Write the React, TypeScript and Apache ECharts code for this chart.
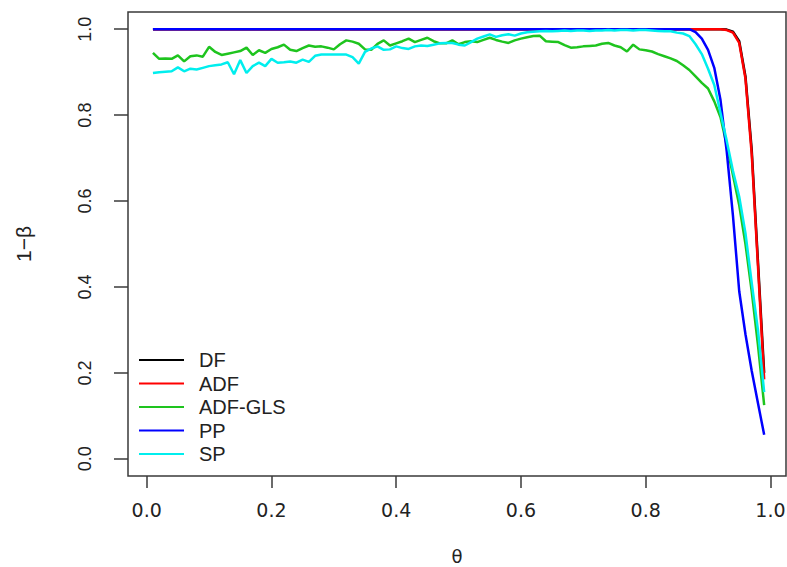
import React, { useEffect, useRef } from "react";
import * as echarts from "echarts";

const THETA = [
  0.01, 0.02, 0.03, 0.04, 0.05, 0.06, 0.07, 0.08, 0.09, 0.1,
  0.11, 0.12, 0.13, 0.14, 0.15, 0.16, 0.17, 0.18, 0.19, 0.2,
  0.21, 0.22, 0.23, 0.24, 0.25, 0.26, 0.27, 0.28, 0.29, 0.3,
  0.31, 0.32, 0.33, 0.34, 0.35, 0.36, 0.37, 0.38, 0.39, 0.4,
  0.41, 0.42, 0.43, 0.44, 0.45, 0.46, 0.47, 0.48, 0.49, 0.5,
  0.51, 0.52, 0.53, 0.54, 0.55, 0.56, 0.57, 0.58, 0.59, 0.6,
  0.61, 0.62, 0.63, 0.64, 0.65, 0.66, 0.67, 0.68, 0.69, 0.7,
  0.71, 0.72, 0.73, 0.74, 0.75, 0.76, 0.77, 0.78, 0.79, 0.8,
  0.81, 0.82, 0.83, 0.84, 0.85, 0.86, 0.87, 0.88, 0.89, 0.9,
  0.91, 0.92, 0.93, 0.94, 0.95, 0.96, 0.97, 0.98, 0.99,
];

const DF = [
  1, 1, 1, 1, 1, 1, 1, 1, 1, 1,
  1, 1, 1, 1, 1, 1, 1, 1, 1, 1,
  1, 1, 1, 1, 1, 1, 1, 1, 1, 1,
  1, 1, 1, 1, 1, 1, 1, 1, 1, 1,
  1, 1, 1, 1, 1, 1, 1, 1, 1, 1,
  1, 1, 1, 1, 1, 1, 1, 1, 1, 1,
  1, 1, 1, 1, 1, 1, 1, 1, 1, 1,
  1, 1, 1, 1, 1, 1, 1, 1, 1, 1,
  1, 1, 1, 1, 1, 1, 1, 1, 1, 1,
  1, 1, 0.999, 0.994, 0.972, 0.89, 0.72, 0.46, 0.2,
];

const ADF = [
  1, 1, 1, 1, 1, 1, 1, 1, 1, 1,
  1, 1, 1, 1, 1, 1, 1, 1, 1, 1,
  1, 1, 1, 1, 1, 1, 1, 1, 1, 1,
  1, 1, 1, 1, 1, 1, 1, 1, 1, 1,
  1, 1, 1, 1, 1, 1, 1, 1, 1, 1,
  1, 1, 1, 1, 1, 1, 1, 1, 1, 1,
  1, 1, 1, 1, 1, 1, 1, 1, 1, 1,
  1, 1, 1, 1, 1, 1, 1, 1, 1, 1,
  1, 1, 1, 1, 1, 1, 1, 1, 1, 1,
  1, 1, 0.998, 0.992, 0.968, 0.885, 0.71, 0.45, 0.185,
];

const ADF_GLS = [
  0.945, 0.931, 0.932, 0.931, 0.939, 0.925, 0.937, 0.939, 0.936, 0.959,
  0.947, 0.94, 0.943, 0.946, 0.949, 0.957, 0.94, 0.951, 0.945, 0.954,
  0.958, 0.964, 0.952, 0.949, 0.956, 0.962, 0.959, 0.96, 0.957, 0.953,
  0.965, 0.974, 0.971, 0.966, 0.953, 0.952, 0.966, 0.974, 0.962, 0.967,
  0.972, 0.978, 0.97, 0.975, 0.98, 0.972, 0.967, 0.967, 0.974, 0.965,
  0.97, 0.972, 0.97, 0.975, 0.98, 0.975, 0.971, 0.968, 0.974, 0.978,
  0.981, 0.984, 0.985, 0.972, 0.971, 0.97, 0.963, 0.957, 0.958, 0.96,
  0.961, 0.962, 0.966, 0.968, 0.962, 0.958, 0.948, 0.964, 0.953, 0.951,
  0.948, 0.942, 0.937, 0.932, 0.926, 0.916, 0.905, 0.89, 0.875, 0.862,
  0.832, 0.795, 0.73, 0.66, 0.59, 0.5, 0.39, 0.265, 0.125,
];

const PP = [
  1, 1, 1, 1, 1, 1, 1, 1, 1, 1,
  1, 1, 1, 1, 1, 1, 1, 1, 1, 1,
  1, 1, 1, 1, 1, 1, 1, 1, 1, 1,
  1, 1, 1, 1, 1, 1, 1, 1, 1, 1,
  1, 1, 1, 1, 1, 1, 1, 1, 1, 1,
  1, 1, 1, 1, 1, 1, 1, 1, 1, 1,
  1, 1, 1, 1, 1, 1, 1, 1, 1, 1,
  1, 1, 1, 1, 1, 1, 1, 1, 1, 1,
  1, 1, 1, 1, 1, 1, 1, 0.993, 0.978, 0.952,
  0.91, 0.835, 0.715, 0.565, 0.39, 0.29, 0.205, 0.13, 0.056,
];

const SP = [
  0.898, 0.9, 0.901, 0.902, 0.911, 0.902, 0.908, 0.906, 0.91, 0.914,
  0.916, 0.918, 0.923, 0.895, 0.928, 0.898, 0.914, 0.922, 0.914, 0.931,
  0.922, 0.923, 0.925, 0.922, 0.929, 0.924, 0.938, 0.941, 0.941, 0.941,
  0.941, 0.941, 0.935, 0.92, 0.947, 0.955, 0.96, 0.952, 0.953, 0.96,
  0.956, 0.954, 0.96, 0.962, 0.961, 0.964, 0.967, 0.968, 0.968, 0.964,
  0.962, 0.97, 0.978, 0.983, 0.988, 0.982, 0.986, 0.988, 0.985, 0.99,
  0.993, 0.994, 0.995, 0.996, 0.995, 0.996, 0.997, 0.996, 0.997, 0.997,
  0.996, 0.997, 0.997, 0.998, 0.997, 0.998, 0.998, 0.997, 0.998, 0.998,
  0.997, 0.996, 0.995, 0.995, 0.992, 0.99, 0.984, 0.965, 0.942, 0.908,
  0.87, 0.805, 0.74, 0.67, 0.61, 0.525, 0.41, 0.3, 0.155,
];

const SERIES_NAMES = ["DF", "ADF", "ADF-GLS", "PP", "SP"];
const SERIES_VALUES = [DF, ADF, ADF_GLS, PP, SP];
const COLORS = ["#000000", "#ff0000", "#1ec41e", "#0000ff", "#00eeee"];
const X_TICKS = [0, 0.2, 0.4, 0.6, 0.8, 1.0];
const Y_TICKS = [0, 0.2, 0.4, 0.6, 0.8, 1.0];

export default function App() {
  const ref = useRef<HTMLDivElement>(null);
  useEffect(() => {
    if (!ref.current) return;
    const chart = echarts.init(ref.current, null, { renderer: "svg" });
    const frame = "#3a3a3a";
    chart.setOption({
      animation: false,
      backgroundColor: "#ffffff",
      grid: {
        left: 128,
        top: 12,
        right: 1,
        bottom: 91,
        show: true,
        borderColor: frame,
        borderWidth: 1.5,
        backgroundColor: "transparent",
        containLabel: false,
        outerBoundsMode: "none",
      },
      legend: {
        orient: "vertical",
        left: 134,
        top: 345,
        icon: "rect",
        itemWidth: 45,
        itemHeight: 2,
        itemGap: 3.5,
        data: SERIES_NAMES,
        textStyle: {
          fontSize: 20,
          color: "#222",
          fontFamily: "Liberation Sans",
          padding: [0, 0, 0, 10],
        },
      },
      xAxis: {
        type: "value",
        min: -0.03,
        max: 1.025,
        axisLine: { show: false, onZero: false },
        splitLine: { show: false },
        axisTick: {
          show: true,
          length: 12,
          customValues: X_TICKS,
          lineStyle: { color: frame, width: 1.5 },
        },
        axisLabel: {
          customValues: X_TICKS,
          formatter: (v: number) => v.toFixed(1),
          margin: 24,
          fontSize: 19,
          color: "#222",
          fontFamily: "DejaVu Sans",
        },
        name: "θ",
        nameLocation: "middle",
        nameGap: 71,
        nameTextStyle: { fontSize: 18, lineHeight: 18, color: "#222", fontFamily: "DejaVu Sans" },
      },
      yAxis: {
        type: "value",
        min: -0.04,
        max: 1.04,
        axisLine: { show: false, onZero: false },
        splitLine: { show: false },
        axisTick: {
          show: true,
          length: 14,
          customValues: Y_TICKS,
          lineStyle: { color: frame, width: 1.5 },
        },
        axisLabel: {
          customValues: Y_TICKS,
          formatter: (v: number) => v.toFixed(1),
          rotate: 90,
          margin: 34,
          fontSize: 18,
          color: "#222",
          fontFamily: "Liberation Sans",
        },
        name: "1−β",
        nameLocation: "middle",
        nameRotate: 90,
        nameGap: 94,
        nameTextStyle: { fontSize: 21, color: "#222", fontFamily: "Liberation Sans" },
      },
      series: SERIES_NAMES.map((name, k) => ({
        name,
        type: "line",
        symbol: "none",
        color: COLORS[k],
        lineStyle: { color: COLORS[k], width: 2.5 },
        data: THETA.map((t, i) => [t, SERIES_VALUES[k][i]]),
      })),
    });
    return () => chart.dispose();
  }, []);
  return (
    <div
      ref={ref}
      style={{ position: "fixed", left: 0, top: 0, width: 787, height: 567, background: "#fff" }}
    />
  );
}
